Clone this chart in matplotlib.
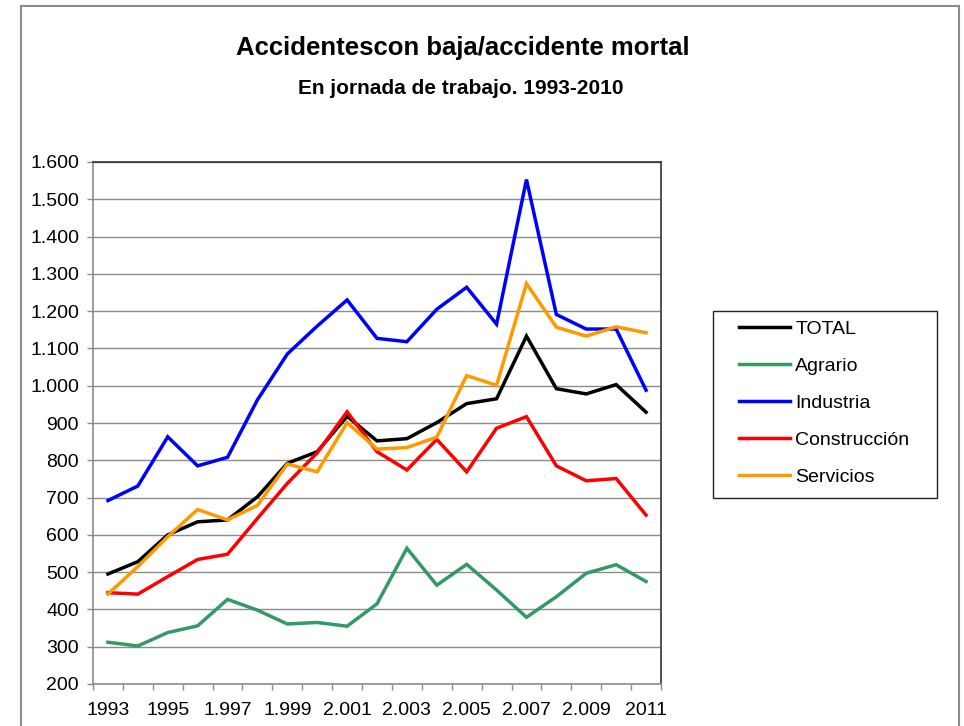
import matplotlib.pyplot as plt
from matplotlib.patches import Rectangle
from matplotlib.ticker import FuncFormatter, FixedLocator

plt.rcParams['font.family'] = ['Liberation Sans', 'DejaVu Sans']

# Data
years = list(range(1993, 2012))
year_labels = ["1993", "1995", "1.997", "1.999", "2.001", "2.003",
               "2.005", "2.007", "2.009", "2011"]

total = [495, 528, 600, 635, 640, 702, 792, 823, 918, 852,
         858, 901, 952, 965, 1133, 992, 978, 1003, 929]
agrario = [312, 302, 338, 356, 427, 398, 361, 365, 355, 415,
           564, 465, 521, 452, 379, 434, 497, 520, 475]
industria = [692, 731, 863, 785, 808, 962, 1085, 1160, 1230, 1127,
             1118, 1205, 1264, 1165, 1553, 1191, 1152, 1152, 988]
construccion = [445, 441, 488, 534, 548, 644, 738, 820, 930, 823,
                774, 856, 769, 886, 917, 785, 745, 751, 653]
servicios = [441, 515, 595, 668, 640, 679, 790, 769, 901, 830,
             834, 862, 1027, 1001, 1274, 1157, 1133, 1158, 1142]

series = [("TOTAL", total, "#000000"),
          ("Agrario", agrario, "#339966"),
          ("Industria", industria, "#0000FF"),
          ("Construcción", construccion, "#FF0000"),
          ("Servicios", servicios, "#FF9900")]

W, H = 964, 726
fig = plt.figure(figsize=(W / 100, H / 100), dpi=100)

# outer chart border (runs off the bottom of the image)
fig.add_artist(Rectangle((21 / W, -0.05), (959 - 21) / W, 1.05 - 6 / H,
                         transform=fig.transFigure, fill=False,
                         edgecolor="#8c8c8c", linewidth=1.5))

ax = fig.add_axes([93 / W, 42 / H, (661 - 93) / W, (684 - 162) / H])

x = list(range(len(years)))
for name, vals, col in series:
    ax.plot(x, vals, color=col, linewidth=2.5, label=name,
            solid_joinstyle="miter")

ax.set_xlim(-0.5, len(years) - 0.5)
ax.set_ylim(200, 1600)
ax.set_yticks(range(200, 1700, 100))
ax.yaxis.set_major_formatter(FuncFormatter(lambda v, p: f"{int(v):,}".replace(",", ".")))
ax.grid(axis="y", color="#8c8c8c", linewidth=1)
ax.set_axisbelow(True)

ax.set_xticks(x[::2])
ax.set_xticklabels(year_labels)
ax.xaxis.set_minor_locator(FixedLocator([i - 0.5 for i in range(len(years) + 1)]))
ax.tick_params(axis="x", which="major", length=0, pad=13, labelsize=14)
ax.tick_params(axis="x", which="minor", length=4, width=1, color="#8c8c8c")
ax.tick_params(axis="y", length=4, width=1, color="#8c8c8c", pad=6, labelsize=14)

for s in ("left", "bottom"):
    ax.spines[s].set_color("#8c8c8c")
    ax.spines[s].set_linewidth(1.2)
for s in ("top", "right"):
    ax.spines[s].set_color("#333333")
    ax.spines[s].set_linewidth(1.2)

fig.text(463 / W, 1 - 48 / H, "Accidentescon baja/accidente mortal",
         ha="center", va="center", fontsize=18.5, fontweight="bold")
fig.text(461 / W, 1 - 88 / H, "En jornada de trabajo. 1993-2010",
         ha="center", va="center", fontsize=15, fontweight="bold")

# legend with a hand-placed frame
fig.add_artist(Rectangle((713 / W, 1 - 498 / H), (937 - 713) / W, (498 - 311) / H,
                         transform=fig.transFigure, fill=False,
                         edgecolor="#222222", linewidth=1))
fig.legend(loc="upper left", bbox_to_anchor=(739 / W, 1 - 320 / H),
           frameon=False, fontsize=14, handlelength=2.6, handletextpad=0.3,
           labelspacing=1.0, borderpad=0, borderaxespad=0)

fig.savefig("out.png", dpi=100)
